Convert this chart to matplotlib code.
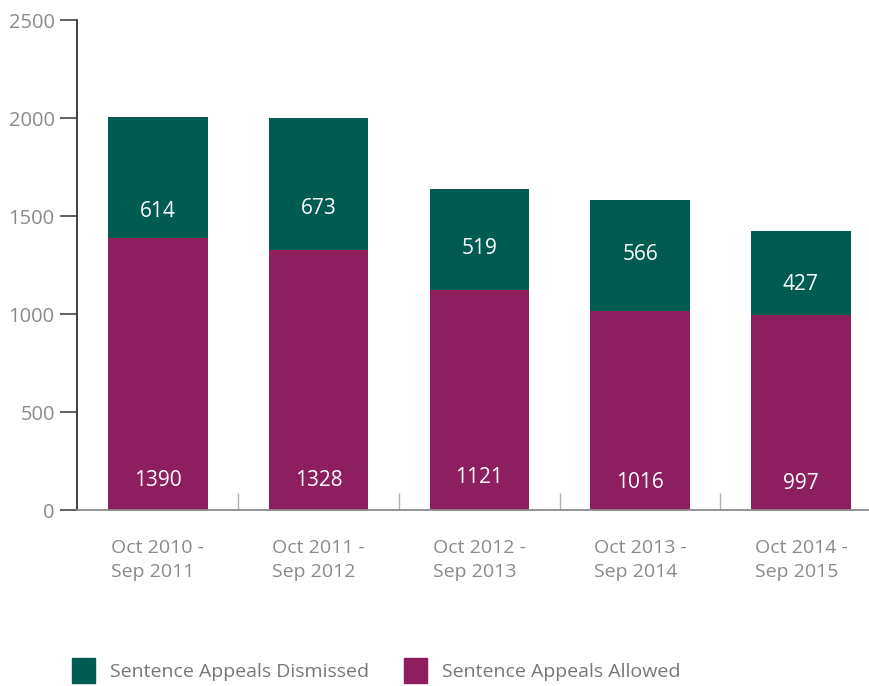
import matplotlib

matplotlib.use("AGG")
import numpy as np
import matplotlib.pyplot as plt
from matplotlib.patches import Patch

periods = ["Oct 2010 -\nSep 2011", "Oct 2011 -\nSep 2012", "Oct 2012 -\nSep 2013",
           "Oct 2013 -\nSep 2014", "Oct 2014 -\nSep 2015"]
allowed = [1390, 1328, 1121, 1016, 997]
dismissed = [614, 673, 519, 566, 427]

# where the value labels sit (data units)
allowed_label_y = [150, 153, 168, 138, 133]
dismissed_label_y = [1525, 1536, 1332, 1306, 1153]

green = "#005c50"
purple = "#8e1f5e"
grey = "#8a8a8a"

plt.rcParams["font.family"] = ["Open Sans", "DejaVu Sans"]

fig = plt.figure(figsize=(8.7, 6.86), dpi=100)
ax = fig.add_axes([77 / 870, 176 / 686, 1 - 77 / 870, 490 / 686])

x = np.arange(len(periods))
w = 0.62
ax.bar(x, allowed, w, color=purple)
ax.bar(x, dismissed, w, bottom=allowed, color=green)

for i in range(len(x)):
    ax.text(x[i], allowed_label_y[i], str(allowed[i]), color="white", fontsize=15,
            ha="center", va="center")
    ax.text(x[i], dismissed_label_y[i], str(dismissed[i]), color="white", fontsize=15,
            ha="center", va="center")

ax.set_xlim(-0.503, 4.43)
ax.set_ylim(0, 2500)
ax.set_yticks([0, 500, 1000, 1500, 2000, 2500])
ax.tick_params(axis="y", direction="out", length=12, width=1.2, color="#444444",
               labelcolor=grey, labelsize=14.5, pad=4)
ax.set_xticks(x)
ax.set_xticklabels(periods, color=grey, fontsize=14, linespacing=1.45,
                   multialignment="left")
ax.tick_params(axis="x", which="major", length=0, pad=21)
ax.set_xticks(x[:-1] + 0.5, minor=True)
ax.tick_params(axis="x", which="minor", direction="in", length=12, width=1,
               color="#b0b0b0")

for s in ["top", "right"]:
    ax.spines[s].set_visible(False)
ax.spines["left"].set_color("#333333")
ax.spines["left"].set_linewidth(1.3)
ax.spines["bottom"].set_color("#8a8a8a")
ax.spines["bottom"].set_linewidth(1.3)

handles = [Patch(color=green, label="Sentence Appeals Dismissed"),
           Patch(color=purple, label="Sentence Appeals Allowed")]
leg = fig.legend(handles=handles, loc="lower left", bbox_to_anchor=(0.0715, -0.01),
                 ncol=2, frameon=False, fontsize=14, handlelength=1.2, handleheight=1.6,
                 handletextpad=0.75, columnspacing=1.8, borderpad=0)
for t in leg.get_texts():
    t.set_color("#777777")

fig.savefig("out.png", dpi=100)
